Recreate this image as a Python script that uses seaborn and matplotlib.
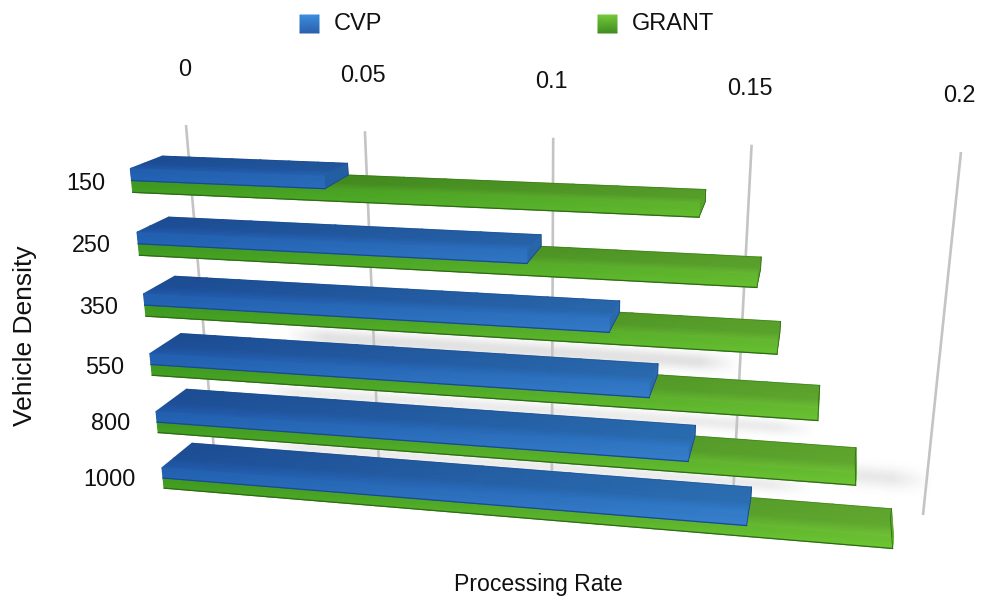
import numpy as np
import pandas as pd
import matplotlib
matplotlib.use('Agg')
import matplotlib.pyplot as plt
import matplotlib.transforms as mtransforms
from matplotlib.colors import to_rgb
from matplotlib.patches import Polygon
import seaborn as sns

# data
densities = ['150', '250', '350', '550', '800', '1000']
cvp_rate = [0.05, 0.0995, 0.1195, 0.1295, 0.1395, 0.1545]
grant_rate = [0.14, 0.154, 0.1595, 0.17, 0.18, 0.19]
rate_ticks = [0, 0.05, 0.1, 0.15, 0.2]
rate_tick_labels = ['0', '0.05', '0.1', '0.15', '0.2']

# (left, right) colours for each series, top face and front face
top_colors = {'CVP': ('#1c4c94', '#3078bc'), 'GRANT': ('#38801a', '#62aa30')}
front_colors = {'CVP': ('#2260b0', '#3a85d0'), 'GRANT': ('#3f9a20', '#6cc232')}
edge_colors = {'CVP': '#1b4a8c', 'GRANT': '#2f6a16'}

W, H = 985, 607
BAR_WIDTH = 0.37

plt.rcParams['font.family'] = ['Liberation Sans', 'DejaVu Sans']


def homography(src, dst):
    A, b = [], []
    for (u, v), (x, y) in zip(src, dst):
        A.append([u, v, 1, 0, 0, 0, -u * x, -v * x])
        A.append([0, 0, 0, u, v, 1, -u * y, -v * y])
        b += [x, y]
    return np.append(np.linalg.solve(np.array(A, float), np.array(b, float)), 1).reshape(3, 3)


class PlaneTransform(mtransforms.Transform):
    # perspective projection of (rate, row) on to picture pixels
    input_dims = 2
    output_dims = 2

    def __init__(self, matrix):
        super().__init__()
        self.matrix = matrix

    def transform_non_affine(self, values):
        pts = np.column_stack([values, np.ones(len(values))]) @ self.matrix.T
        return pts[:, :2] / pts[:, 2:]


corners = [(0, 0), (0.2, 0), (0, 5), (0.2, 5)]
front_plane = PlaneTransform(homography(corners, [(131.5, 180.5), (970, 216), (163, 478), (936, 541)]))
back_plane = PlaneTransform(homography(corners, [(163.5, 167.5), (964, 200), (193, 453), (932, 512)]))
grid_plane = PlaneTransform(homography([(0, 0), (0.2, 0), (0, 1), (0.2, 1)],
                                       [(186, 125), (961, 152), (214.6, 457), (923, 515)]))

fig = plt.figure(figsize=(W / 100, H / 100), dpi=100)

# seaborn works out the bars in (rate, row) space
bars_ax = fig.add_axes([0, 0, 1, 1])
df = pd.DataFrame({
    'density': densities * 2,
    'rate': cvp_rate + grant_rate,
    'series': ['CVP'] * len(densities) + ['GRANT'] * len(densities),
})
sns.barplot(data=df, x='rate', y='density', hue='series', order=densities, hue_order=['CVP', 'GRANT'],
            palette=[front_colors['CVP'][0], front_colors['GRANT'][0]], width=BAR_WIDTH, gap=0,
            errorbar=None, legend=False, orient='h', ax=bars_ax)
bars_ax.axis('off')

# second axes in picture pixels for the faces, grid and text
ax = fig.add_axes([0, 0, 1, 1], facecolor='none')


def shade(color_pair, x, factor):
    t = np.clip((x - 130) / 770, 0, 1)[..., None]
    c0, c1 = np.array(to_rgb(color_pair[0])), np.array(to_rgb(color_pair[1]))
    return np.clip((c0 * (1 - t) + c1 * t) * np.asarray(factor)[..., None], 0, 1)


def draw_face(pts_a, pts_b, color_pair, levels, factors, zorder):
    # mesh between two edges, factors give the light across the face
    X = np.array([pts_a[:, 0] + (pts_b[:, 0] - pts_a[:, 0]) * s for s in levels])
    Y = np.array([pts_a[:, 1] + (pts_b[:, 1] - pts_a[:, 1]) * s for s in levels])
    F = np.repeat(np.array(factors)[:, None], X.shape[1], axis=1)
    ax.pcolormesh(X, Y, shade(color_pair, X, F), shading='gouraud', zorder=zorder)


def draw_bar(patch, series, zorder):
    v1 = patch.get_width()
    r0, r1 = patch.get_y(), patch.get_y() + patch.get_height()
    vs = np.linspace(0, v1, 14)
    top_f = front_plane.transform(np.column_stack([vs, np.full(14, r0)]))
    top_b = back_plane.transform(np.column_stack([vs, np.full(14, r0)]))
    bot_f = front_plane.transform(np.column_stack([vs, np.full(14, r1)]))
    bot_b = back_plane.transform(np.column_stack([vs, np.full(14, r1)]))

    draw_face(top_b, top_f, top_colors[series], [0, 0.6, 1], [0.97, 1.0, 1.16], zorder)
    cap = np.array([top_f[-1], top_b[-1], bot_b[-1], bot_f[-1]])
    cap_color = shade(front_colors[series], np.array(top_f[-1][0]), np.array(0.88))
    ax.add_patch(Polygon(cap, closed=True, facecolor=cap_color, edgecolor=cap_color, lw=0.4, zorder=zorder))
    draw_face(top_f, bot_f, front_colors[series], [0, 0.5, 1], [0.98, 1.0, 1.03], zorder + 0.1)
    ax.plot(bot_f[:, 0], bot_f[:, 1], color=edge_colors[series], lw=0.9, zorder=zorder + 0.2)
    ax.plot(*np.array([top_b[-1], bot_b[-1], bot_f[-1]]).T, color=edge_colors[series], lw=0.6, zorder=zorder + 0.2)
    ax.plot(top_b[:, 0], top_b[:, 1], color=edge_colors[series], lw=0.4, alpha=0.6, zorder=zorder + 0.2)


# soft shadows on the wall, just above the back edge of the lower rows
yy, xx = np.mgrid[0:H, 0:W] + 0.5
shadow = np.zeros((H, W))
for row, v0, v1, lift, sigma, amp in [(3, 0.03, 0.15, 5, 6, 0.2), (4, 0.02, 0.17, 4, 5, 0.13),
                                      (5, 0.02, 0.17, 4, 5, 0.13), (5, 0.172, 0.2, 20, 7, 0.15)]:
    r = row - BAR_WIDTH / 2
    (xa, ya), (xb, yb) = back_plane.transform(np.array([[v0, r], [v1, r]]))
    line_y = ya + (yb - ya) * (xx - xa) / (xb - xa) - lift
    ends = np.clip((xx - xa) / 40, 0, 1) * np.clip((xb - xx) / 40, 0, 1)
    shadow += amp * np.exp(-0.5 * ((yy - line_y) / sigma) ** 2) * ends
rgba = np.dstack([np.full((H, W), 0.42)] * 3 + [np.clip(shadow, 0, 1)])
ax.imshow(rgba, extent=[0, W, H, 0], aspect='auto', interpolation='bilinear', zorder=0.5)

# grid lines on the back wall
for v, label in zip(rate_ticks, rate_tick_labels):
    (x0, y0), (x1, y1) = grid_plane.transform(np.array([[v, 0.0], [v, 1.0]]))
    ax.plot([x0, x1], [y0, y1], color='#c4c4c4', lw=1.9, solid_capstyle='butt', zorder=1)
    ax.text(x0 - 1.5, y0 - 56, label, ha='center', va='center', fontsize=16.8, color='#111111')

# bars, top row first, green under blue
patches = list(bars_ax.patches)
n = len(densities)
for i in range(n):
    draw_bar(patches[n + i], 'GRANT', 2 + i)
    draw_bar(patches[i], 'CVP', 2.5 + i)
    for p in (patches[i], patches[n + i]):
        p.set_transform(front_plane + ax.transData)
        p.set_clip_on(False)

# row labels
label_right = [105, 111, 118, 124, 130, 136]
label_y = [183, 246, 307, 367, 424, 480]
for name, x, y in zip(densities, label_right, label_y):
    ax.text(x, y, name, ha='right', va='center', fontsize=16.8, color='#111111')

# legend
for name, x, tx, c_top, c_bot in [('CVP', 300, 334, '#3b8fdc', '#2a5fac'), ('GRANT', 598, 632, '#74c93a', '#3f8c1f')]:
    X, Y = np.meshgrid([x, x + 19], [15, 33])
    rgb = np.array([[to_rgb(c_top)] * 2, [to_rgb(c_bot)] * 2])
    ax.pcolormesh(X, Y, rgb, shading='gouraud', zorder=3)
    ax.text(tx, 24.5, name, ha='left', va='center', fontsize=17, color='#111111')

ax.text(538, 585, 'Processing Rate', ha='center', va='center', fontsize=16.6, color='#111111')
ax.text(25, 336, 'Vehicle Density', ha='center', va='center', rotation=90, fontsize=19, color='#111111')

ax.set_xlim(0, W)
ax.set_ylim(H, 0)
ax.axis('off')

plt.savefig('out.png', dpi=100)
plt.close()
